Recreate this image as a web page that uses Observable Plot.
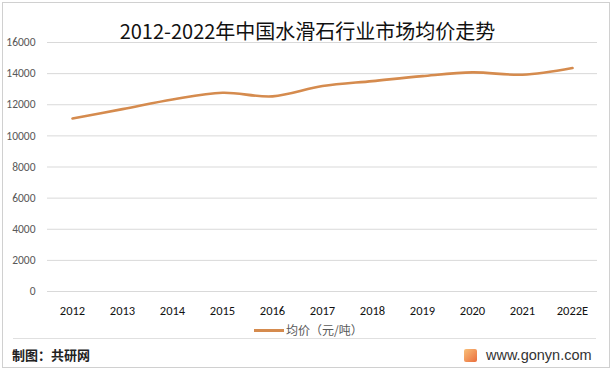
<!DOCTYPE html>
<html><head><meta charset="utf-8">
<script src="https://cdn.jsdelivr.net/npm/d3@7"></script>
<script src="https://cdn.jsdelivr.net/npm/@observablehq/plot@0.6"></script>
<style>
html,body{margin:0;padding:0;background:#fff;width:615px;height:371px;overflow:hidden;}
body{position:relative;font-family:"Noto Sans CJK SC","Liberation Sans",sans-serif;}
#frame{position:absolute;left:2px;top:2px;width:606px;height:364px;border:1px solid #d0d0d0;}
#title{position:absolute;left:0;width:615px;top:18px;text-align:center;font-size:20px;color:#111;line-height:26px;}
#chart{position:absolute;left:0;top:0;}
#legend{position:absolute;top:322px;left:254px;font-size:12px;color:#595959;display:flex;align-items:center;line-height:16px;}
#legend .sw{width:30px;height:3px;background:#D58B4E;margin-right:2px;}
#sep{position:absolute;left:13px;top:338px;width:583px;height:1px;background:#e0e0e0;}
#src{position:absolute;left:12px;top:346px;font-size:13px;font-weight:bold;color:#222;line-height:18px;}
#site{position:absolute;left:464px;top:345px;font-size:14.5px;color:#333;line-height:20px;display:flex;align-items:center;font-family:"Liberation Sans",sans-serif;}
#site .logo{width:13px;height:13px;background:linear-gradient(135deg,#f9c07a,#ea6d3c);border-radius:2px;margin-right:9px;}
</style></head>
<body>
<div id="frame"></div>
<div id="chart"></div>
<div id="title">2012-2022年中国水滑石行业市场均价走势</div>
<div id="legend"><span class="sw"></span><span>均价（元/吨）</span></div>
<div id="sep"></div>
<div id="src">制图：共研网</div>
<div id="site"><span class="logo"></span>www.gonyn.com</div>
<script>
const years = ["2012","2013","2014","2015","2016","2017","2018","2019","2020","2021","2022E"];
const prices = [11120, 11720, 12340, 12770, 12540, 13200, 13520, 13840, 14080, 13930, 14360];
const yTicks = [0, 2000, 4000, 6000, 8000, 10000, 12000, 14000, 16000];
const seriesName = "均价（元/吨）";

const data = years.map((y, i) => ({year: y, value: prices[i]}));

const chart = Plot.plot({
  width: 615,
  height: 371,
  marginTop: 42,
  marginBottom: 80,
  marginLeft: 47,
  marginRight: 18,
  style: {fontFamily: "Carlito, 'Liberation Sans', sans-serif", background: "transparent"},
  x: {type: "point", domain: years, padding: 0.5, label: null},
  y: {domain: [0, 16000], label: null},
  marks: [
    Plot.gridY(yTicks, {stroke: "#d9d9d9", strokeOpacity: 1, strokeWidth: 1}),
    Plot.axisY(yTicks, {tickSize: 0, tickPadding: 12, fontSize: 11.5, fill: "#595959", label: null, tickFormat: d => String(d)}),
    Plot.axisX({tickSize: 0, tickPadding: 15, fontSize: 12.5, fill: "#111", label: null}),
    Plot.line(data, {x: "year", y: "value", stroke: "#D58B4E", strokeWidth: 2.6, curve: "catmull-rom"})
  ]
});
document.getElementById("chart").appendChild(chart);
</script>
</body></html>
